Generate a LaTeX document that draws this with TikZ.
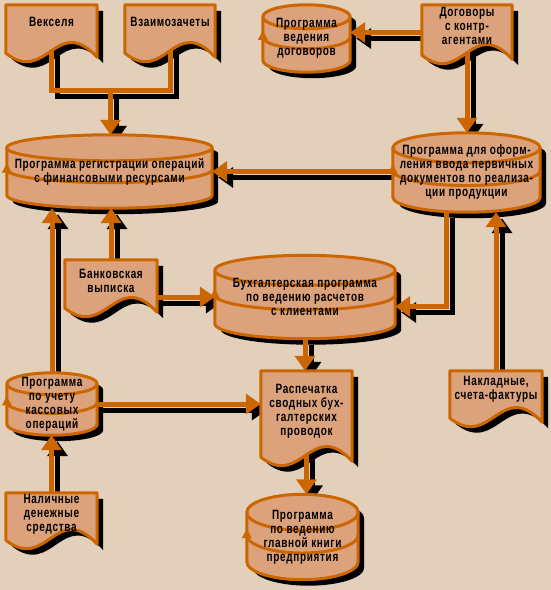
\documentclass[tikz,border=0pt]{standalone}
\usepackage{fontspec}
\newfontfamily\chartfont{Liberation Sans}[FakeStretch=0.74, LetterSpace=5]
\usetikzlibrary{arrows.meta, calc}
\definecolor{mPaper}{HTML}{E3D0BB}
\definecolor{mPeach}{HTML}{DBA27C}
\definecolor{mRust}{HTML}{CC6600}
\pgfdeclarelayer{shadow}
\pgfdeclarelayer{back}
\pgfsetlayers{shadow,back,main}
\tikzset{
  lbl/.style={align=center, inner sep=0pt,
              font=\chartfont\bfseries\fontsize{13.5}{14}\selectfont},
  diskbox/.style={lbl},
  docbox/.style={lbl},
  body/.style={fill=mPeach, draw=mRust, line width=3pt, line join=round},
  link/.style={draw=mRust, line width=5pt},
  dark/.style={draw=black, line width=5pt, transform canvas={shift={(6pt,-6pt)}}},
  arrowed/.style={-{Triangle[width=20pt,length=15pt]}},
}
% disk store: body, inner rings and the small mark on the left side
\newcommand\diskpath[2]{let \p1=(#1.north west), \p2=(#1.south east),
    \n1={(\x2-\x1)/2} in
  (\x1,\y1-#2pt) -- (\x1,\y2+#2pt)
  arc[start angle=180, end angle=360, x radius=\n1, y radius=#2pt]
  -- (\x2,\y1-#2pt)
  arc[start angle=0, end angle=180, x radius=\n1, y radius=#2pt] -- cycle}
\newcommand\disk[2]{%
  \begin{pgfonlayer}{shadow}
    \fill[black, transform canvas={shift={(6pt,-6pt)}}] \diskpath{#1}{#2};
  \end{pgfonlayer}
  \begin{pgfonlayer}{back}
    \filldraw[body] \diskpath{#1}{#2};
    \draw[body, fill=none] let \p1=(#1.north west), \p2=(#1.south east),
        \n1={(\x2-\x1)/2}, \n2={\y1-#2pt-0.46*(\y1-\y2-2*#2pt)} in
      (\x1,\y1-#2pt) arc[start angle=180, end angle=360, x radius=\n1, y radius=#2pt]
      (\x1,\n2) arc[start angle=180, end angle=360, x radius=\n1, y radius=#2pt];
    \fill[mRust] let \p1=(#1.north west), \p2=(#1.south east),
        \n2={\y1-#2pt-0.46*(\y1-\y2-2*#2pt)} in
      (\x1,\n2) ++(0,6pt) -- ++(5pt,-9pt) -- ++(-10pt,0) -- cycle;
  \end{pgfonlayer}
}
% document: straight top and sides, wavy bottom
\newcommand\docpath[2]{let \p1=(#1.north west), \p2=(#1.south east),
    \n1={\x2-\x1}, \n2={\y2-#2pt} in
  (\x1,\y1) -- (\x2,\y1) -- (\x2,\n2-4pt)
  .. controls (\x1+0.55*\n1,\n2+40pt) and (\x1+0.45*\n1,\n2-32pt) .. (\x1,\n2) -- cycle}
\newcommand\docu[2]{%
  \begin{pgfonlayer}{shadow}
    \fill[black, transform canvas={shift={(6pt,-6pt)}}] \docpath{#1}{#2};
  \end{pgfonlayer}
  \begin{pgfonlayer}{back}
    \filldraw[body] \docpath{#1}{#2};
  \end{pgfonlayer}
}
\newcommand\flowlinks[1]{%
  \draw[#1] (vek) |- (vj) -| (vzaim);
  \draw[#1, arrowed] (vj) -- (vj |- reg.north);
  \draw[#1, arrowed] (dog.west |- dogtip) -- (dogtip);
  \draw[#1, arrowed] (dog) -- (dog |- oform.north);
  \draw[#1, arrowed] (oform.west |- reg.east) -- (reg.east);
  \draw[#1, arrowed] (bank) -- (bank |- reg.south);
  \draw[#1, arrowed] (kassa) -- (kassa |- reg.south);
  \draw[#1, arrowed] (bank.east |- buh.west) -- (buh.west);
  \draw[#1, arrowed] (obend |- oform.south) -- (obend) -- (obend -| buh.east);
  \draw[#1, arrowed] (nakl) -- (nakl |- oform.south);
  \draw[#1, arrowed] (buh) -- (buh |- rasp.north);
  \draw[#1, arrowed] (kassa.east) -- (kassa.east -| rasp.west);
  \draw[#1, arrowed] (rasp) -- (rasp |- kniga.north);
  \draw[#1, arrowed] (nal) -- (nal |- kassa.south);
}

\begin{document}
\begin{tikzpicture}[x=1pt, y=-1pt]
  \useasboundingbox (0,0) rectangle (551,590);
  \begin{pgfonlayer}{shadow}
    \fill[mPaper] (0,0) rectangle (551,590);
  \end{pgfonlayer}

  \node[docbox, minimum width=91, minimum height=34] (vek) at (51.5,22) {Векселя};
  \node[docbox, minimum width=90, minimum height=34] (vzaim) at (170,22) {Взаимозачеты};
  \node[diskbox, minimum width=87, minimum height=67] (dogprog) at (306.5,38.5)
    {Программа\\ведения\\договоров};
  \node[docbox, minimum width=90, minimum height=41] (dog) at (467,25.5)
    {Договоры\\с контр-\\агентами};
  \node[diskbox, minimum width=205, minimum height=73] (reg) at (109.5,171.5)
    {Программа регистрации операций\\с финансовыми ресурсами};
  \node[diskbox, minimum width=147, minimum height=79] (oform) at (466.5,172.5)
    {Программа для оформ-\\ления ввода первичных\\документов по реализа-\\ции продукции};
  \node[docbox, minimum width=92, minimum height=41] (bank) at (111,280.5)
    {Банковская\\выписка};
  \node[diskbox, minimum width=180, minimum height=83] (buh) at (305,297)
    {Бухгалтерская программа\\по ведению расчетов\\с клиентами};
  \node[diskbox, minimum width=90, minimum height=62] (kassa) at (52,404)
    {Программа\\по учету\\кассовых\\операций};
  \node[docbox, minimum width=91, minimum height=80] (rasp) at (306.5,411)
    {Распечатка\\сводных бух-\\галтерских\\проводок};
  \node[docbox, minimum width=92, minimum height=37] (nakl) at (496,389.5)
    {Накладные,\\счета-фактуры};
  \node[docbox, minimum width=91, minimum height=43] (nal) at (51.5,514.5)
    {Наличные\\денежные\\средства};
  \node[diskbox, minimum width=111, minimum height=85] (kniga) at (302.5,537)
    {Программа\\по ведению\\главной книги\\предприятия};

  \coordinate (vj) at (110.5,90.5);
  \coordinate (dogtip) at ([yshift=6pt]dogprog.east);
  \coordinate (obend) at (446.5,306.5);

  % connectors: shadow first, then the lines
  \begin{pgfonlayer}{shadow}
    \flowlinks{dark}
  \end{pgfonlayer}
  \begin{pgfonlayer}{back}
    \flowlinks{link}
  \end{pgfonlayer}

  \disk{dogprog}{12}
  \disk{reg}{13}
  \disk{oform}{15}
  \disk{buh}{15}
  \disk{kassa}{11}
  \disk{kniga}{18}
  \docu{vek}{14}
  \docu{vzaim}{14}
  \docu{dog}{9}
  \docu{bank}{7}
  \docu{rasp}{6}
  \docu{nakl}{10}
  \docu{nal}{4}
\end{tikzpicture}
\end{document}
